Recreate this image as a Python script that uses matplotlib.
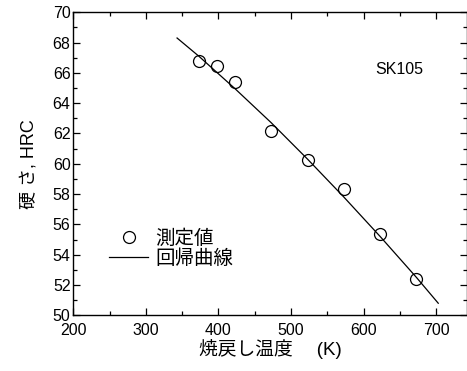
import matplotlib

matplotlib.use("Agg")
import matplotlib.pyplot as plt
from matplotlib.ticker import MultipleLocator

plt.rcParams["font.family"] = ["Liberation Sans", "Noto Sans CJK JP"]

# measured hardness vs tempering temperature
temp_k = [373, 398, 423, 473, 523, 573, 623, 673]
hardness = [66.75, 66.42, 65.37, 62.19, 60.28, 58.31, 55.4, 52.43]

# regression curve
fit_k = [343, 373, 423, 473, 523, 573, 623, 673, 703]
fit_hrc = [68.3, 67.1, 64.95, 62.7, 60.3, 57.8, 55.2, 52.5, 50.8]

fig = plt.figure(figsize=(4.67, 3.71), dpi=100)
ax = fig.add_axes([0.157, 0.15, 0.842, 0.817])

ax.plot(fit_k, fit_hrc, color="black", lw=0.9, label="回帰曲線")
ax.plot(temp_k, hardness, ls="none", marker="o", ms=8.6, mfc="none",
        mec="black", mew=0.9, label="測定値")

ax.set_xlim(200, 742)
ax.set_ylim(50, 70)
ax.xaxis.set_major_locator(MultipleLocator(100))
ax.xaxis.set_minor_locator(MultipleLocator(50))
ax.yaxis.set_major_locator(MultipleLocator(2))
ax.yaxis.set_minor_locator(MultipleLocator(1))
ax.tick_params(which="both", direction="in", top=True, right=True,
               labelsize=11.5, width=0.9, pad=2)
ax.tick_params(axis="x", which="major", pad=5.5)
ax.tick_params(which="major", length=5)
ax.tick_params(which="minor", length=3)
for s in ax.spines.values():
    s.set_linewidth(1.0)

ax.set_xlabel("焼戻し温度　 (K)", fontsize=13.5, labelpad=1)
ax.set_ylabel("硬 さ, HRC", fontsize=13, labelpad=11)

ax.text(649, 66.25, "SK105", fontsize=11.5, ha="center", va="center")

h, l = ax.get_legend_handles_labels()
ax.legend(h[::-1], l[::-1], loc="upper left", bbox_to_anchor=(0.072, 0.31),
          frameon=False, fontsize=14, handlelength=2.0, handletextpad=0.36,
          labelspacing=0.08, borderaxespad=0)

fig.savefig("out.png", dpi=100)
